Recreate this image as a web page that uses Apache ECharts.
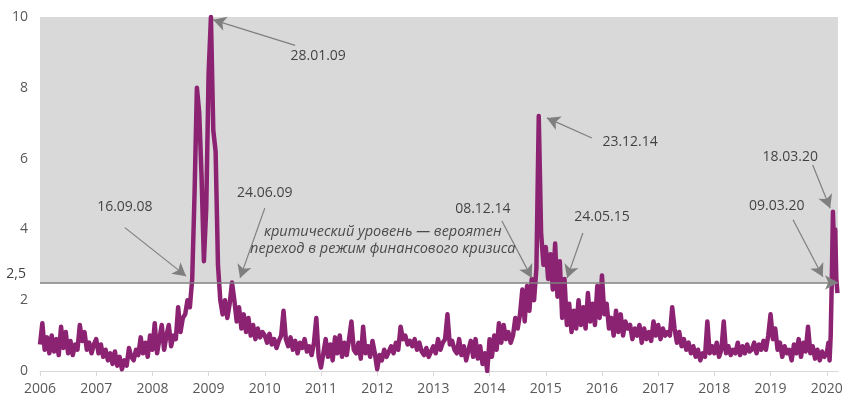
<!DOCTYPE html>
<html><head><meta charset="utf-8">
<script src="https://cdn.jsdelivr.net/npm/echarts@6/dist/echarts.min.js"></script>
<style>html,body{margin:0;padding:0;background:#fff}#c{width:866px;height:417px}</style>
</head><body><div id="c"></div>
<script>
// semi-monthly readings (24 per year)
var d2006 = [0.75,1.35,0.6,0.95,0.5,1.0,0.55,0.9,0.45,1.25,0.65,1.1,0.5,0.85,0.45,0.75,0.6,1.3,0.85,1.1,0.6,0.8,0.5,0.75];
var d2007 = [0.9,0.5,0.75,0.4,0.6,0.3,0.5,0.2,0.55,0.15,0.4,0.05,0.3,0.15,0.65,0.4,0.3,0.6,0.45,0.95,0.5,0.8,0.4,1.0];
var d2008 = [0.6,1.35,0.5,0.9,1.3,0.6,1.0,1.3,0.7,1.0,0.9,1.8,1.1,1.5,1.6,2.0,1.8,2.6,5.0,8.0,7.3,5.5,3.1,4.6];
var d2009 = [8.4,10.0,6.8,6.2,3.0,2.0,1.6,2.0,1.5,1.9,2.5,2.0,1.4,1.8,1.2,1.6,1.1,1.5,1.0,1.3,0.9,1.2,0.95,1.1];
var d2010 = [1.0,0.8,1.05,0.75,0.9,0.65,0.85,1.0,1.7,0.9,0.7,0.95,0.6,0.85,0.5,0.8,0.65,0.9,0.55,0.7,0.45,0.8,1.5,0.4];
var d2011 = [0.1,0.5,0.9,0.4,0.75,0.3,0.95,0.5,1.0,0.4,0.8,0.45,0.9,1.4,0.6,0.5,0.8,0.35,1.25,0.5,0.7,0.4,0.85,0.5];
var d2012 = [0.05,0.45,0.3,0.6,0.4,0.55,0.7,0.5,0.8,0.6,1.25,0.9,1.0,0.75,0.85,0.7,0.9,0.6,0.8,0.55,0.45,0.65,0.4,0.55];
var d2013 = [0.7,0.5,0.9,0.6,0.8,0.9,1.6,0.75,0.85,0.6,0.5,0.9,0.45,0.7,0.3,0.6,0.85,0.4,0.9,0.35,0.7,0.2,0.5,0.0];
var d2014 = [0.9,0.4,1.0,0.6,1.35,0.8,1.3,0.9,1.1,0.8,1.0,1.5,1.2,1.6,2.3,1.4,2.4,1.7,2.6,2.0,2.9,7.2,3.9,3.0];
var d2015 = [3.5,2.6,3.3,2.3,3.6,2.1,3.1,1.5,2.6,1.3,1.9,1.1,1.7,1.2,2.0,1.3,1.8,1.2,2.2,1.4,1.9,1.3,2.4,1.5];
var d2016 = [2.7,1.6,1.9,1.2,1.5,1.0,1.7,1.1,1.6,1.0,1.4,1.2,1.3,0.9,1.2,1.0,1.3,0.8,1.2,0.9,1.1,0.85,1.4,1.0];
var d2017 = [1.3,0.9,1.2,1.0,1.1,1.0,1.8,1.2,0.8,1.1,0.7,0.9,0.6,0.8,0.5,0.7,0.4,0.6,0.3,0.5,0.4,1.4,0.5,0.7];
var d2018 = [0.5,0.8,0.4,0.6,1.4,0.5,0.7,0.45,0.6,0.5,0.8,0.45,0.7,0.5,0.75,0.55,0.6,0.8,0.5,0.75,0.6,0.85,0.6,1.0];
var d2019 = [1.6,0.9,1.2,0.6,0.8,0.4,0.7,0.5,0.6,0.3,0.75,0.5,0.9,0.4,0.8,0.55,1.25,0.5,0.7,0.35,0.6,0.3,0.55,0.4];
var x2020 = [2020.0,2020.03,2020.05,2020.07,2020.09,2020.11,2020.13,2020.15,2020.17,2020.19];
var d2020 = [0.5,0.8,0.3,1.0,2.6,4.5,3.5,4.0,2.6,2.2];

var yearly = [d2006,d2007,d2008,d2009,d2010,d2011,d2012,d2013,d2014,d2015,d2016,d2017,d2018,d2019];
var firstYear = 2006;
var yTicks = [0,2,4,6,8,10];
var threshold = 2.5;
var thresholdLabel = '2,5';

// annotations: text, text position, arrow start, arrow end (data units)
var annTexts = ['28.01.09','16.09.08','24.06.09','08.12.14','23.12.14','24.05.15','18.03.20','09.03.20'];
var annTextPos = [[2010.95,8.9],[2007.51,4.63],[2010.0,5.03],[2013.88,4.58],[2016.5,6.47],[2016.0,4.35],[2019.35,6.05],[2019.11,4.66]];
var annFrom = [[2010.54,9.2],[2007.51,4.05],[2010.0,4.6],[2014.22,4.24],[2015.82,6.58],[2015.66,3.9],[2019.75,5.82],[2019.4,4.27]];
var annTo = [[2009.08,9.92],[2008.6,2.68],[2009.56,2.63],[2014.75,2.63],[2015.02,7.15],[2015.38,2.63],[2020.06,4.6],[2019.93,2.66]];
var noteText = 'критический уровень — вероятен\nпереход в режим финансового кризиса';
var notePos = [2012.1,3.7];

var lineData = [];
yearly.forEach(function(arr, k){
  arr.forEach(function(v, i){ lineData.push([firstYear + k + i/24, v]); });
});
x2020.forEach(function(x, i){ lineData.push([x, d2020[i]]); });

var labelData = annTexts.map(function(t, i){ return {name: t, value: annTextPos[i]}; });
labelData.push({name: noteText, value: notePos, label: {fontStyle: 'italic', fontSize: 14.5, lineHeight: 17, color: '#262626'}});

var arrows = annFrom.map(function(f, i){ return [{coord: f}, {coord: annTo[i]}]; });

var chart = echarts.init(document.getElementById('c'), null, {renderer: 'canvas'});
chart.setOption({
  animation: false,
  grid: {left: 40, right: 28, top: 17, bottom: 46},
  xAxis: {
    type: 'value', min: 2006, max: 2020.2, interval: 1,
    axisLine: {show: true, lineStyle: {color: '#d9d9d9', width: 1}},
    axisTick: {show: true, length: 5, lineStyle: {color: '#d9d9d9'}},
    axisLabel: {color: '#595959', fontSize: 14, fontFamily: 'Open Sans', margin: 11,
      showMaxLabel: false, formatter: function(v){ return String(Math.round(v)); }},
    splitLine: {show: false}
  },
  yAxis: {
    type: 'value', min: 0, max: 10, interval: 2,
    axisLine: {show: false}, axisTick: {show: false}, splitLine: {show: false},
    axisLabel: {color: '#595959', fontSize: 14, fontFamily: 'Open Sans', margin: 12,
      formatter: function(v){ return yTicks.indexOf(v) >= 0 ? String(v) : ''; }}
  },
  series: [
    {
      type: 'line', data: lineData, showSymbol: false, symbol: 'none', z: 3,
      lineStyle: {color: '#8B2372', width: 4.5, join: 'round'},
      markArea: {silent: true, itemStyle: {color: '#d9d9d9'},
        data: [[{yAxis: threshold}, {yAxis: 10}]]}
    },
    {
      type: 'scatter', data: labelData, symbolSize: 0, z: 5, silent: true,
      label: {show: true, position: 'inside', formatter: '{b}', color: '#1a1a1a',
        fontSize: 14, fontFamily: 'Open Sans', align: 'center', verticalAlign: 'middle'},
      markLine: {
        silent: true, symbol: ['none', 'arrow'], symbolSize: [11, 13],
        lineStyle: {color: '#7f7f7f', width: 1.2, type: 'solid'},
        label: {show: false},
        data: arrows.concat([
          {yAxis: threshold, symbol: 'none',
           lineStyle: {color: '#808080', width: 1.5},
           label: {show: true, position: 'start', formatter: thresholdLabel + '\n ', color: '#404040',
             fontSize: 14, lineHeight: 17, fontFamily: 'Open Sans', distance: 14}}
        ])
      }
    }
  ]
});
</script></body></html>
